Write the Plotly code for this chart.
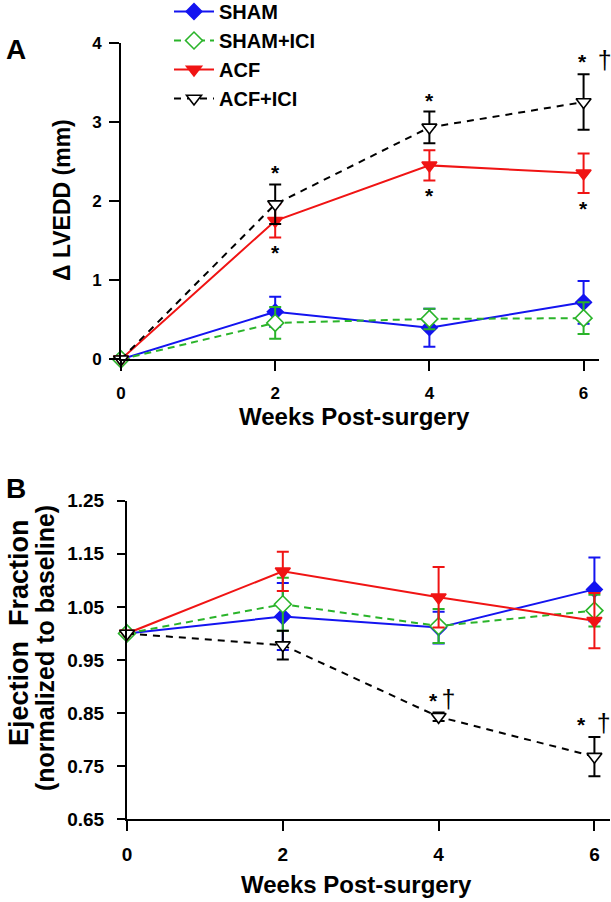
import plotly.graph_objects as go

W, H = 611, 902
FONT = "Liberation Sans, Arial, Helvetica, sans-serif"

# ---------------- data ----------------
weeks = [0, 2, 4, 6]
groups = ["SHAM", "SHAM+ICI", "ACF", "ACF+ICI"]

# Panel A: change in LVEDD (mm), mean and SEM
lvedd_sham = [0.0, 0.60, 0.40, 0.72]
lvedd_sham_err = [0.0, 0.19, 0.24, 0.27]
lvedd_shamici = [0.0, 0.46, 0.51, 0.52]
lvedd_shamici_err = [0.0, 0.20, 0.13, 0.20]
lvedd_acf = [0.0, 1.75, 2.45, 2.35]
lvedd_acf_err = [0.0, 0.21, 0.19, 0.25]
lvedd_acfici = [0.0, 1.96, 2.93, 3.25]
lvedd_acfici_err = [0.0, 0.25, 0.20, 0.35]

# Panel B: ejection fraction normalized to baseline, mean and SEM
ef_sham = [1.0, 1.032, 1.011, 1.083]
ef_sham_err = [0.0, 0.063, 0.030, 0.060]
ef_shamici = [1.0, 1.055, 1.014, 1.043]
ef_shamici_err = [0.0, 0.050, 0.032, 0.030]
ef_acf = [1.0, 1.117, 1.068, 1.024]
ef_acf_err = [0.0, 0.037, 0.057, 0.052]
ef_acfici = [1.0, 0.978, 0.843, 0.768]
ef_acfici_err = [0.0, 0.027, 0.008, 0.037]

# tick labels
x_ticks = [0, 2, 4, 6]
a_y_ticks = [0, 1, 2, 3, 4]
b_y_ticks = [0.65, 0.75, 0.85, 0.95, 1.05, 1.15, 1.25]

# significance marks: (week, group, side, text)
sig_a = [(2, "ACF+ICI", "above", "*"), (2, "ACF", "below", "*"),
         (4, "ACF+ICI", "above", "*"), (4, "ACF", "below", "*"),
         (6, "ACF+ICI", "above", "* \u00a0†"), (6, "ACF", "below", "*")]
sig_b = [(4, "ACF+ICI", "above", "*\u2009†"), (6, "ACF+ICI", "above", "* \u00a0†")]

# ---------------- styles ----------------
style = {
    "SHAM": dict(color="#1414f0", symbol="diamond", fill="#1414f0", dash="solid", size=12),
    "SHAM+ICI": dict(color="#2ab42a", symbol="diamond", fill="white", dash="7px,5px", size=13),
    "ACF": dict(color="#f01414", symbol="triangle-down", fill="#f01414", dash="solid", size=13),
    "ACF+ICI": dict(color="#000000", symbol="triangle-down", fill="white", dash="7px,6px", size=13),
}

data_a = {"SHAM": (lvedd_sham, lvedd_sham_err), "SHAM+ICI": (lvedd_shamici, lvedd_shamici_err),
          "ACF": (lvedd_acf, lvedd_acf_err), "ACF+ICI": (lvedd_acfici, lvedd_acfici_err)}
data_b = {"SHAM": (ef_sham, ef_sham_err), "SHAM+ICI": (ef_shamici, ef_shamici_err),
          "ACF": (ef_acf, ef_acf_err), "ACF+ICI": (ef_acfici, ef_acfici_err)}

fig = go.Figure()


def add_series(name, vals, errs, xa, ya, showlegend):
    s = style[name]
    fig.add_trace(go.Scatter(
        x=weeks, y=vals, name=name, mode="lines+markers",
        xaxis=xa, yaxis=ya, legendgroup=name, showlegend=showlegend,
        line=dict(color=s["color"], width=2, dash=s["dash"]),
        marker=dict(symbol=s["symbol"], size=s["size"], color=s["fill"],
                    line=dict(color=s["color"], width=1.6)),
        error_y=dict(type="data", array=errs, visible=True, color=s["color"], thickness=2, width=6),
        cliponaxis=False,
    ))


for g in groups:
    add_series(g, data_a[g][0], data_a[g][1], "x", "y", True)
for g in groups:
    add_series(g, data_b[g][0], data_b[g][1], "x2", "y2", False)


def px_x(p):
    return p / W


def px_y(p):
    return 1 - p / H


annotations = []


def add_sig(marks, data, xref, yref, xshifts):
    for (wk, grp, side, txt), xs in zip(marks, xshifts):
        i = weeks.index(wk)
        m, e = data[grp][0][i], data[grp][1][i]
        if side == "above":
            yv, anchor, ys = m + e, "bottom", -2
        else:
            yv, anchor, ys = m - e, "top", -2
        parts = txt.split("†")
        t = "<b>" + parts[0] + "</b>"
        if len(parts) > 1:
            t += '<span style="font-size:25px">†</span>'
        annotations.append(dict(x=wk, y=yv, xref=xref, yref=yref, text=t, showarrow=False,
                                yanchor=anchor, xanchor="center", yshift=ys, xshift=xs,
                                font=dict(family=FONT, size=21, color="black")))


add_sig(sig_a, data_a, "x", "y", [0, 0, 0, 0, 11, 0])
add_sig(sig_b, data_b, "x2", "y2", [3, 0])


def title(text, px, py, size, angle=0):
    return dict(x=px_x(px), y=px_y(py), xref="paper", yref="paper", text="<b>" + text + "</b>",
                xanchor="center", yanchor="middle", textangle=angle, showarrow=False,
                font=dict(family=FONT, size=size, color="black"))


annotations += [
    title("A", 16, 50, 28),
    title("B", 16, 488, 28),
    title("Weeks Post-surgery", 354, 416, 24),
    title("Weeks Post-surgery", 356, 884, 24),
    title("Δ LVEDD (mm)", 62, 200, 23, -90),
    title("Ejection\u00a0 Fraction", 19, 633, 27, -90),
    title("(normalized to baseline)", 45, 648, 25, -90),
]

axis_common = dict(showline=True, linecolor="black", linewidth=2, ticks="outside", tickcolor="black",
                   tickwidth=2, showgrid=False, zeroline=False, fixedrange=True, automargin=False)

fig.update_layout(
    template="none",
    width=W, height=H,
    autosize=False,
    margin=dict(l=0, r=0, t=0, b=0, pad=0, autoexpand=False),
    paper_bgcolor="white", plot_bgcolor="white",
    font=dict(family=FONT, color="black"),
    showlegend=True,
    legend=dict(x=px_x(169), y=px_y(-8), xanchor="left", yanchor="top",
                font=dict(family=FONT, size=20, color="black", weight="bold"),
                bgcolor="rgba(0,0,0,0)", borderwidth=0, tracegroupgap=9, itemwidth=40,
                traceorder="normal"),
    xaxis=dict(domain=[px_x(121), px_x(599)], range=[0, 6.2], anchor="y", tickvals=x_ticks,
               ticklen=10, ticklabelstandoff=7,
               tickfont=dict(family=FONT, size=17, weight="bold"), **axis_common),
    yaxis=dict(domain=[px_y(359.3), px_y(42.7)], range=[0, 4], anchor="x", tickvals=a_y_ticks,
               ticklen=10, ticklabelstandoff=4,
               tickfont=dict(family=FONT, size=17, weight="bold"), **axis_common),
    xaxis2=dict(domain=[px_x(127), px_x(610)], range=[0, 6.2], anchor="y2", tickvals=x_ticks,
                ticklen=10, ticklabelstandoff=7,
                tickfont=dict(family=FONT, size=19, weight="bold"), **axis_common),
    yaxis2=dict(domain=[px_y(819.3), px_y(500.7)], range=[0.65, 1.25], anchor="x2", tickvals=b_y_ticks,
                tickformat=".2f", ticklen=8, ticklabelstandoff=9,
                tickfont=dict(family=FONT, size=19, weight="bold"), **axis_common),
    annotations=annotations,
)

fig.write_html("out.html", config={"displayModeBar": False, "staticPlot": True},
               post_script="document.body.style.margin='0';")
